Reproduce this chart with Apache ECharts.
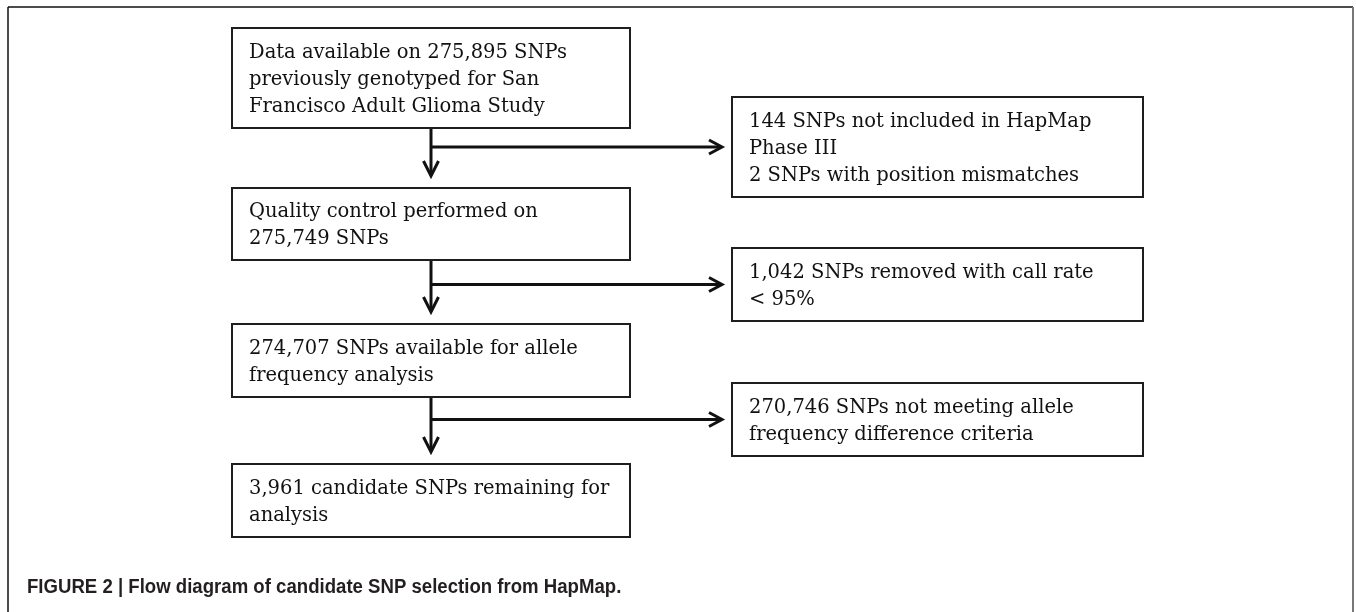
<!DOCTYPE html>
<html>
<head>
<meta charset="utf-8">
<script src="https://cdn.jsdelivr.net/npm/echarts@6/dist/echarts.min.js"></script>
<style>
  html, body { margin: 0; padding: 0; background: #fff; }
  #flow { width: 1356px; height: 612px; }
</style>
</head>
<body>
<div id="flow"></div>
<script>
// texts of the flow diagram
const mainSteps = [
  'Data available on 275,895 SNPs\npreviously genotyped for San\nFrancisco Adult Glioma Study',
  'Quality control performed on\n275,749 SNPs',
  '274,707 SNPs available for allele\nfrequency analysis',
  '3,961 candidate SNPs remaining for\nanalysis'
];
const exclusions = [
  '144 SNPs not included in HapMap\nPhase III\n2 SNPs with position mismatches',
  '1,042 SNPs removed with call rate\n< 95%',
  '270,746 SNPs not meeting allele\nfrequency difference criteria'
];
const caption = 'FIGURE 2 | Flow diagram of candidate SNP selection from HapMap.';

// layout (pixel units on a hidden 1356 x 612 axis pair)
const COL_X = [[232, 630], [732, 1143]];
const MAIN_Y = [[28, 128], [188, 260], [324, 397], [464, 537]];
const SIDE_Y = [[97, 197], [248, 321], [383, 456]];
const STEM_X = 431;

const chart = echarts.init(document.getElementById('flow'));

function boxRenderer(texts, rows, col) {
  return function (params, api) {
    const i = params.dataIndex;
    const [x0, x1] = COL_X[col];
    const [y0, y1] = rows[i];
    const p0 = api.coord([x0, y0]);
    const p1 = api.coord([x1, y1]);
    return {
      type: 'group',
      children: [
        {
          type: 'rect',
          shape: { x: p0[0], y: p0[1], width: p1[0] - p0[0], height: p1[1] - p0[1] },
          style: { fill: '#fff', stroke: '#1e1e1e', lineWidth: 2 }
        },
        {
          type: 'text',
          style: {
            text: texts[i],
            x: p0[0] + 17,
            y: (p0[1] + p1[1]) / 2 + 1.5,
            verticalAlign: 'middle',
            align: 'left',
            font: '19.5px "DejaVu Serif"',
            lineHeight: 27,
            fill: '#111'
          }
        }
      ]
    };
  };
}

function arrowRenderer(params, api) {
  const i = params.dataIndex;
  const top = api.coord([STEM_X, MAIN_Y[i][1]]);
  const tip = api.coord([STEM_X, MAIN_Y[i + 1][0] - 12]);
  const mid = (SIDE_Y[i][0] + SIDE_Y[i][1]) / 2;
  const b0 = api.coord([STEM_X, mid]);
  const b1 = api.coord([COL_X[1][0] - 10, mid]);
  const st = { stroke: '#111', lineWidth: 3, fill: null };
  return {
    type: 'group',
    children: [
      { type: 'line', shape: { x1: top[0], y1: top[1], x2: tip[0], y2: tip[1] - 1 }, style: st },
      { type: 'polyline', shape: { points: [[tip[0] - 7.5, tip[1] - 15], [tip[0], tip[1]], [tip[0] + 7.5, tip[1] - 15]] }, style: st },
      { type: 'line', shape: { x1: b0[0], y1: b0[1], x2: b1[0] - 1, y2: b1[1] }, style: st },
      { type: 'polyline', shape: { points: [[b1[0] - 13, b1[1] - 7], [b1[0], b1[1]], [b1[0] - 13, b1[1] + 7]] }, style: st }
    ]
  };
}

chart.setOption({
  animation: false,
  backgroundColor: '#fff',
  grid: { left: 0, right: 0, top: 0, bottom: 0 },
  xAxis: { type: 'value', min: 0, max: 1356, show: false },
  yAxis: { type: 'value', min: 0, max: 612, inverse: true, show: false },
  graphic: [
    { type: 'line', shape: { x1: 8, y1: 7, x2: 1353, y2: 7 }, style: { stroke: '#111', lineWidth: 1.5 } },
    { type: 'line', shape: { x1: 8, y1: 7, x2: 8, y2: 612 }, style: { stroke: '#111', lineWidth: 1.5 } },
    { type: 'line', shape: { x1: 1353, y1: 7, x2: 1353, y2: 612 }, style: { stroke: '#777', lineWidth: 2 } },
    {
      type: 'text',
      x: 27,
      y: 587,
      scaleX: 0.93,
      style: {
        text: caption,
        x: 0,
        y: 0,
        verticalAlign: 'middle',
        font: 'bold 20px "Liberation Sans"',
        fill: '#231f20'
      }
    }
  ],
  series: [
    {
      type: 'custom',
      name: 'arrows',
      silent: true,
      renderItem: arrowRenderer,
      data: exclusions.map((t, i) => [STEM_X, i])
    },
    {
      type: 'custom',
      name: 'main',
      silent: true,
      renderItem: boxRenderer(mainSteps, MAIN_Y, 0),
      data: mainSteps.map((t, i) => [0, i])
    },
    {
      type: 'custom',
      name: 'excluded',
      silent: true,
      renderItem: boxRenderer(exclusions, SIDE_Y, 1),
      data: exclusions.map((t, i) => [1, i])
    }
  ]
});
</script>
</body>
</html>
